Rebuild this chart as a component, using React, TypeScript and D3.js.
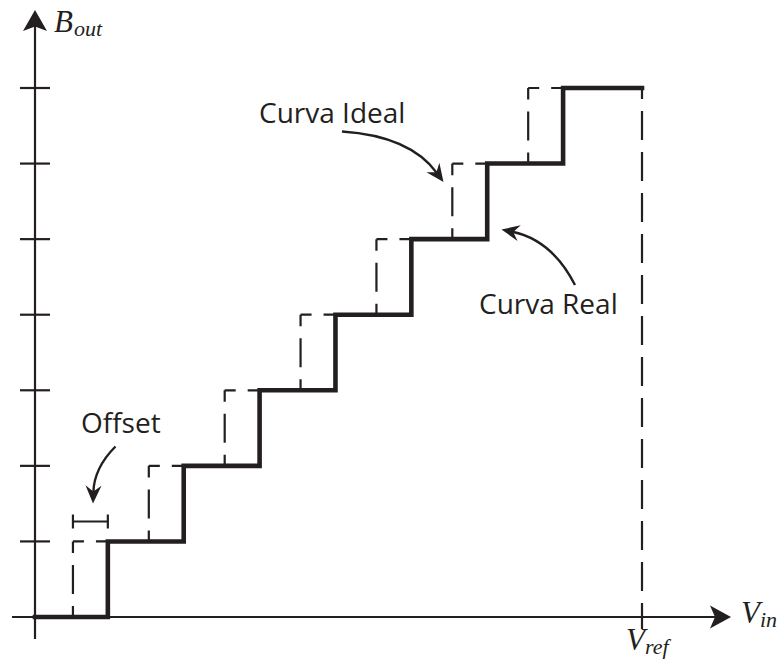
import React from "react";
import * as d3 from "d3";

// Output codes (levels) and transition voltages in LSB units
const levels = [0, 1, 2, 3, 4, 5, 6, 7];
const idealTransitions = [0.5, 1.5, 2.5, 3.5, 4.5, 5.5, 6.5];
const realTransitions = [0.96, 1.96, 2.96, 3.96, 4.96, 5.96, 6.96];
const vrefValue = 8;
const yTickValues = [1, 2, 3, 4, 5, 6, 7];

const W = 782;
const H = 666;
const INK = "#231f20";
const SANS = "'Open Sans', 'Noto Sans', sans-serif";
const SERIF = "'Liberation Serif', 'DejaVu Serif', serif";

const x = d3.scaleLinear().domain([0, vrefValue]).range([35, 642]);
const y = d3.scaleLinear().domain([0, 7]).range([617, 88]);

function headPath(tx: number, ty: number, ang: number, len: number, hw: number, notch: number) {
  const c = Math.cos(ang), s = Math.sin(ang);
  const pt = (a: number, b: number) => [tx - a * c - b * -s, ty - a * s - b * c];
  const p1 = pt(len, hw);
  const p2 = pt(notch, 0);
  const p3 = pt(len, -hw);
  return `M${tx},${ty}L${p1[0]},${p1[1]}L${p2[0]},${p2[1]}L${p3[0]},${p3[1]}Z`;
}

function CurvedArrow({ from, ctrl, to }: { from: number[]; ctrl: number[]; to: number[] }) {
  const ang = Math.atan2(to[1] - ctrl[1], to[0] - ctrl[0]);
  const back = 11;
  const ex = to[0] - Math.cos(ang) * back;
  const ey = to[1] - Math.sin(ang) * back;
  const p = d3.path();
  p.moveTo(from[0], from[1]);
  p.quadraticCurveTo(ctrl[0], ctrl[1], ex, ey);
  return (
    <g>
      <path d={p.toString()} fill="none" stroke={INK} strokeWidth={2.4} />
      <path d={headPath(to[0], to[1], ang, 18, 8, 12)} fill={INK} />
    </g>
  );
}

export default function App() {
  const realPts: [number, number][] = [[0, 0]];
  realTransitions.forEach((t, i) => {
    realPts.push([t, levels[i]]);
    realPts.push([t, levels[i + 1]]);
  });
  realPts.push([vrefValue, levels[levels.length - 1]]);
  const line = d3.line<[number, number]>().x((d) => x(d[0])).y((d) => y(d[1]));

  // ideal curve segments (drawn separately so dashes restart at each corner)
  const idealSegs: { x1: number; y1: number; x2: number; y2: number }[] = [];
  idealSegs.push({ x1: x(0), y1: y(0), x2: x(idealTransitions[0]), y2: y(0) });
  idealTransitions.forEach((t, i) => {
    idealSegs.push({ x1: x(t), y1: y(levels[i]), x2: x(t), y2: y(levels[i + 1]) });
    const nextX = i + 1 < idealTransitions.length ? idealTransitions[i + 1] : vrefValue;
    idealSegs.push({ x1: x(t), y1: y(levels[i + 1]), x2: x(nextX), y2: y(levels[i + 1]) });
  });

  const dash = { strokeDasharray: "29 12", strokeDashoffset: 18 };

  return (
    <svg width={W} height={H} style={{ position: "absolute", left: 0, top: 0, background: "#fff" }}>
      <rect width={W} height={H} fill="#fff" />
      {/* axes */}
      <line x1={x(0)} y1={639} x2={x(0)} y2={26} stroke={INK} strokeWidth={2.2} />
      <path d={headPath(x(0), 10, -Math.PI / 2, 21, 12, 16.5)} fill={INK} />
      <line x1={12} y1={y(0)} x2={716} y2={y(0)} stroke={INK} strokeWidth={2.2} />
      <path d={headPath(731, y(0), 0, 21, 11.5, 16)} fill={INK} />
      {/* y ticks */}
      {yTickValues.map((v) => (
        <line key={v} x1={20} x2={50} y1={y(v)} y2={y(v)} stroke={INK} strokeWidth={2.2} />
      ))}
      {/* ideal curve (dashed) */}
      {idealSegs.map((s, i) => (
        <line key={i} {...s} stroke={INK} strokeWidth={2.2} {...dash} />
      ))}
      {/* Vref dashed line */}
      <line x1={x(vrefValue)} y1={y(7)} x2={x(vrefValue)} y2={629} stroke={INK} strokeWidth={2.2} {...dash} />
      {/* real curve */}
      <path d={line(realPts) || ""} fill="none" stroke={INK} strokeWidth={4.6} strokeLinejoin="miter" strokeLinecap="square" />
      {/* offset bracket */}
      <g stroke={INK} strokeWidth={2.2}>
        <line x1={x(idealTransitions[0])} x2={x(realTransitions[0])} y1={521.5} y2={521.5} />
        <line x1={x(idealTransitions[0])} x2={x(idealTransitions[0])} y1={514.5} y2={528.5} />
        <line x1={x(realTransitions[0])} x2={x(realTransitions[0])} y1={514.5} y2={528.5} />
      </g>
      {/* annotations */}
      <CurvedArrow from={[342, 131.5]} ctrl={[410, 136]} to={[443.5, 182]} />
      <CurvedArrow from={[575, 285]} ctrl={[552, 240]} to={[501.5, 229.5]} />
      <CurvedArrow from={[115.5, 446.5]} ctrl={[94, 468]} to={[93, 503.5]} />
      <g fontFamily={SANS} fontSize={28} fill={INK}>
        <text x={259} y={122.5}>Curva Ideal</text>
        <text x={479} y={314}>Curva Real</text>
        <text x={81} y={433}>Offset</text>
      </g>
      {/* math labels */}
      <g fontFamily={SERIF} fontStyle="italic" fill={INK}>
        <text x={54} y={32} fontSize={31}>
          B<tspan fontSize={22} dy={4} dx={1}>out</tspan>
        </text>
        <text x={741} y={623} fontSize={31}>
          V<tspan fontSize={22} dy={4}>in</tspan>
        </text>
        <text x={626} y={650} fontSize={31}>
          V<tspan fontSize={22} dy={4}>ref</tspan>
        </text>
      </g>
    </svg>
  );
}
